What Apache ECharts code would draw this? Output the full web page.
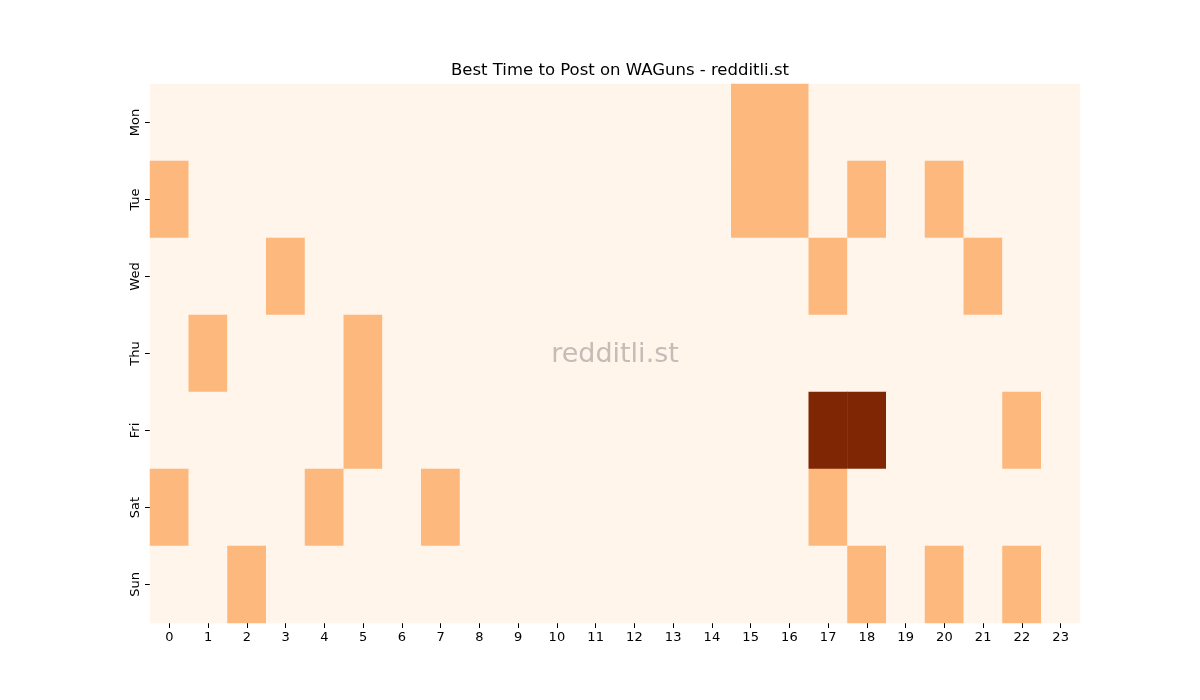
<!DOCTYPE html>
<html><head><meta charset="utf-8">
<script src="https://cdn.jsdelivr.net/npm/echarts@6/dist/echarts.min.js"></script>
<style>html,body{margin:0;padding:0;background:#fff}#c{width:1200px;height:700px}</style>
</head><body><div id="c"></div>
<script>
const hours = ['0','1','2','3','4','5','6','7','8','9','10','11','12','13','14','15','16','17','18','19','20','21','22','23'];
const days = ['Mon','Tue','Wed','Thu','Fri','Sat','Sun'];
// non-zero cells per day: [hour, value]
const monCells = [[15,1],[16,1]];
const tueCells = [[0,1],[15,1],[16,1],[18,1],[20,1]];
const wedCells = [[3,1],[17,1],[21,1]];
const thuCells = [[1,1],[5,1]];
const friCells = [[5,1],[17,3],[18,3],[22,1]];
const satCells = [[0,1],[4,1],[7,1],[17,1]];
const sunCells = [[2,1],[18,1],[20,1],[22,1]];
const dayCells = [monCells,tueCells,wedCells,thuCells,friCells,satCells,sunCells];

const data = [];
days.forEach((d, di) => {
  hours.forEach((h, hi) => {
    const found = dayCells[di].find(c => c[0] === hi);
    data.push([hi, di, found ? found[1] : 0]);
  });
});

const chart = echarts.init(document.getElementById('c'));
chart.setOption({
  animation: false,
  backgroundColor: '#ffffff',
  title: {
    text: 'Best Time to Post on WAGuns - redditli.st',
    left: 615, top: 57, textAlign: 'center',
    textStyle: {fontFamily: 'DejaVu Sans', fontSize: 16.5, fontWeight: 'normal', color: '#000'}
  },
  grid: {left: 150, right: 120, top: 84, bottom: 77},
  xAxis: {
    type: 'category', data: hours,
    axisLine: {show: false},
    axisTick: {show: true, alignWithLabel: true, length: 5, lineStyle: {color: '#000'}},
    axisLabel: {fontFamily: 'DejaVu Sans', fontSize: 13, color: '#000', margin: 8},
    splitLine: {show: false}
  },
  yAxis: {
    type: 'category', data: days, inverse: true,
    axisLine: {show: false},
    axisTick: {show: true, alignWithLabel: true, length: 5, lineStyle: {color: '#000'}},
    axisLabel: {fontFamily: 'DejaVu Sans', fontSize: 13, color: '#000', rotate: 90, margin: 8},
    splitLine: {show: false}
  },
  visualMap: {
    show: false, type: 'piecewise', dimension: 2,
    pieces: [
      {value: 0, color: '#fff5eb'},
      {value: 1, color: '#fdb97d'},
      {value: 3, color: '#7f2704'}
    ]
  },
  graphic: [{
    type: 'text', x: 615, y: 355, z: 100,
    style: {text: 'redditli.st', fontFamily: 'DejaVu Sans', fontSize: 27, fill: 'rgba(150,140,140,0.55)',
            textAlign: 'center', textVerticalAlign: 'middle'}
  }],
  series: [{
    type: 'heatmap', data: data,
    itemStyle: {borderWidth: 0},
    emphasis: {disabled: true}
  }]
});
</script></body></html>
